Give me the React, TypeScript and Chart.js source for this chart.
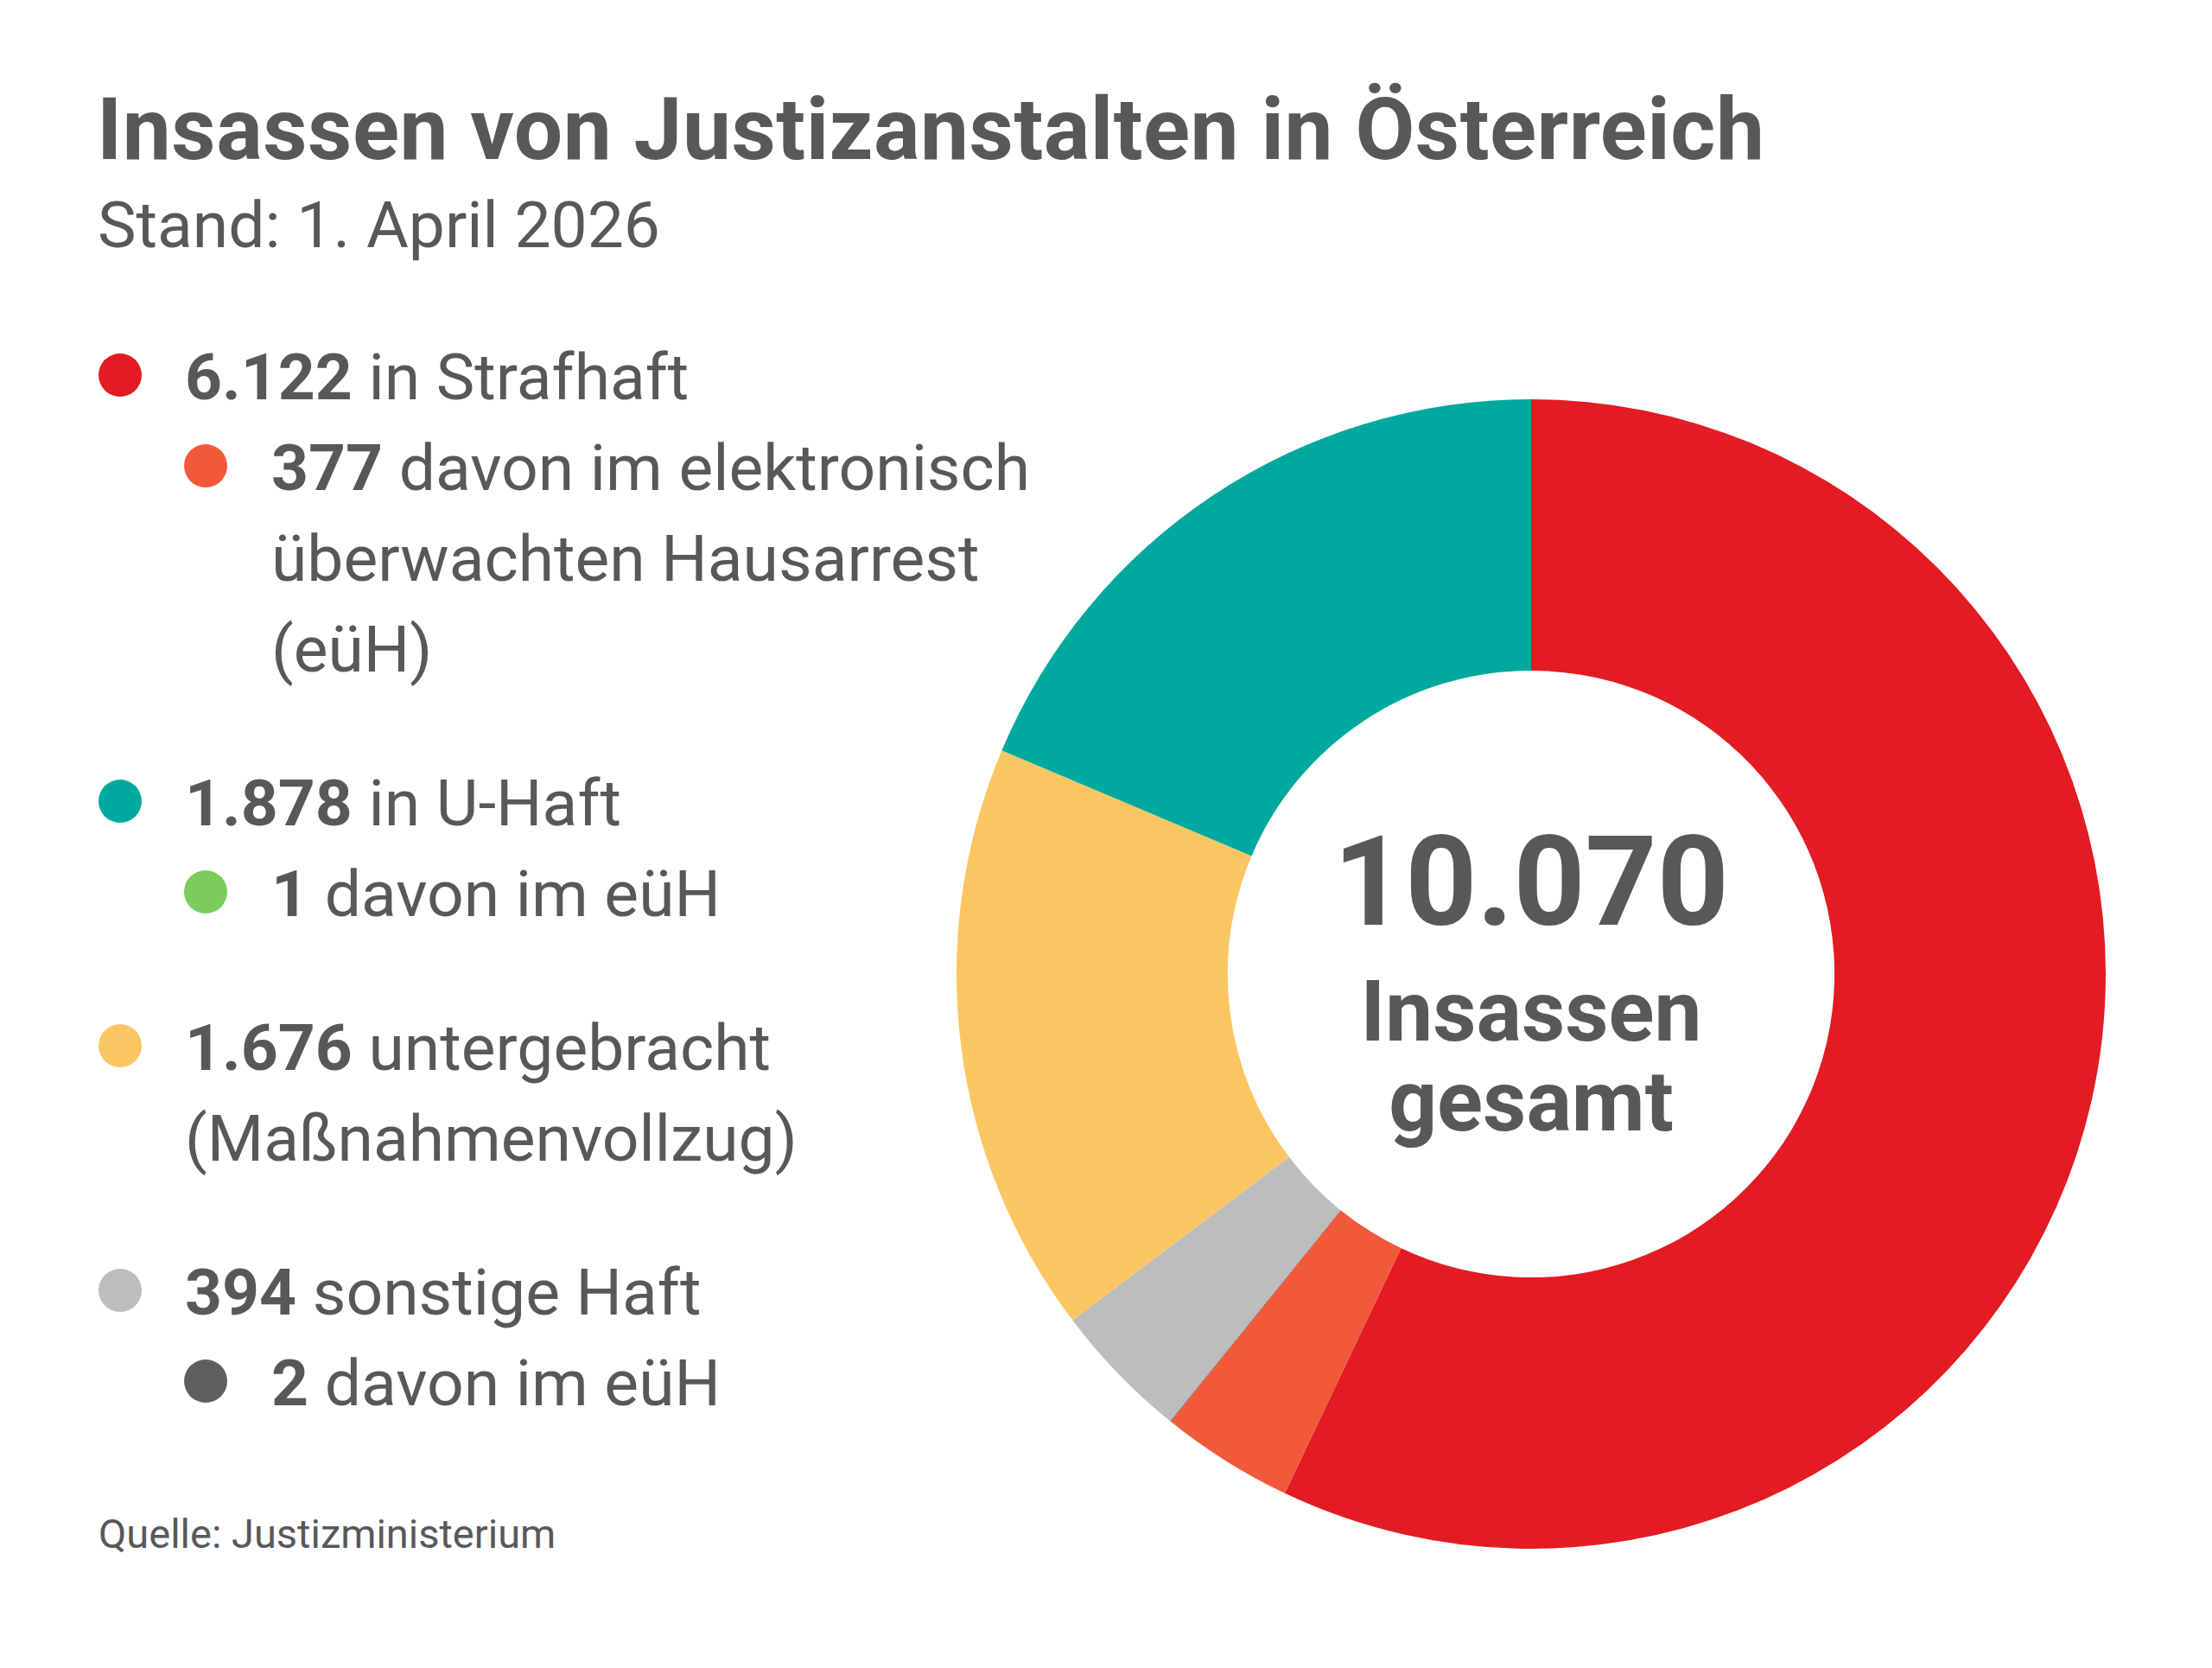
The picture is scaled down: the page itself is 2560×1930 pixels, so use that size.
import React, { useEffect, useRef } from 'react';
import { Chart, registerables } from 'chart.js';

Chart.register(...registerables);

// ---- Texts ----
const TITLE = 'Insassen von Justizanstalten in Österreich';
const SUBTITLE = 'Stand: 1. April 2026';
const SOURCE = 'Quelle: Justizministerium';
const CENTER_LABEL = ['Insassen', 'gesamt'];

// ---- Data: main categories and how many of them are in eüH ----
const categoryTexts = ['in Strafhaft', 'in U-Haft', 'untergebracht\n(Maßnahmenvollzug)', 'sonstige Haft'];
const categoryTotals = [6122, 1878, 1676, 394];
const categoryColors = ['#E31B23', '#00A99D', '#FBC662', '#BDBDBD'];

const euhTexts = ['davon im elektronisch\nüberwachten Hausarrest\n(eüH)', 'davon im eüH', '', 'davon im eüH'];
const euhCounts = [377, 1, 0, 2];
const euhColors = ['#F1593A', '#7ACC5C', '', '#5E5E60'];

// Clockwise ring order from 12 o'clock: [category index, eüH part?]
const ringOrder: [number, boolean][] = [
  [0, false],
  [0, true],
  [3, true],
  [3, false],
  [2, false],
  [1, true],
  [1, false],
];

const ringValues = ringOrder.map(([i, euh]) => (euh ? euhCounts[i] : categoryTotals[i] - euhCounts[i]));
const ringColors = ringOrder.map(([i, euh]) => (euh ? euhColors[i] : categoryColors[i]));
const ringLabels = ringOrder.map(([i, euh]) => (euh ? `${categoryTexts[i].split('\n')[0]} (eüH)` : categoryTexts[i].split('\n')[0]));

const total = categoryTotals.reduce((a, b) => a + b, 0);

const fmt = (n: number) => String(n).replace(/\B(?=(\d{3})+(?!\d))/g, '.');

// ---- Layout ----
const W = 2560;
const H = 1930;
const TEXT = '#58585A';
const FONT = 'Roboto, "Noto Sans", sans-serif';

const CX = 1772;
const CY = 1127;
const R = 665;

// baseline-anchored text block (Roboto: baseline ≈ 0.842em below top with line-height 1)
function TextLine({ x, baseline, size, weight = 400, children, align = 'left', spacing = 0 }: any) {
  const top = baseline - 0.842 * size;
  const style: React.CSSProperties = {
    position: 'absolute',
    top,
    fontSize: size,
    lineHeight: `${size}px`,
    fontWeight: weight,
    fontFamily: FONT,
    color: TEXT,
    whiteSpace: 'nowrap',
    letterSpacing: spacing,
  };
  if (align === 'center') {
    style.left = x - 1000;
    style.width = 2000;
    style.textAlign = 'center';
  } else {
    style.left = x;
  }
  return <div style={style}>{children}</div>;
}

function Legend() {
  const size = 75;
  const pitch = 105;
  const groupGap = 178;
  const x0Dot = 139;
  const x1Dot = 238;
  const x0Text = 214;
  const x1Text = 314;
  const items: React.ReactNode[] = [];
  let base = 462;
  categoryTexts.forEach((txt, i) => {
    const lines = txt.split('\n');
    items.push(
      <div
        key={`d${i}`}
        style={{
          position: 'absolute',
          left: x0Dot - 25,
          top: base - 28 - 25,
          width: 50,
          height: 50,
          borderRadius: '50%',
          background: categoryColors[i],
        }}
      />
    );
    lines.forEach((ln, j) => {
      items.push(
        <TextLine key={`c${i}-${j}`} x={x0Text} baseline={base} size={size}>
          {j === 0 ? (
            <>
              <span style={{ fontWeight: 700 }}>{fmt(categoryTotals[i])}</span> {ln}
            </>
          ) : (
            ln
          )}
        </TextLine>
      );
      base += pitch;
    });
    if (euhTexts[i]) {
      const sub = euhTexts[i].split('\n');
      items.push(
        <div
          key={`e${i}`}
          style={{
            position: 'absolute',
            left: x1Dot - 25,
            top: base - 28 - 25,
            width: 50,
            height: 50,
            borderRadius: '50%',
            background: euhColors[i],
          }}
        />
      );
      sub.forEach((ln, j) => {
        items.push(
          <TextLine key={`s${i}-${j}`} x={x1Text} baseline={base} size={size}>
            {j === 0 ? (
              <>
                <span style={{ fontWeight: 700 }}>{fmt(euhCounts[i])}</span> {ln}
              </>
            ) : (
              ln
            )}
          </TextLine>
        );
        base += pitch;
      });
    }
    base += groupGap - pitch;
  });
  return <>{items}</>;
}

function Doughnut() {
  const ref = useRef<HTMLCanvasElement>(null);
  useEffect(() => {
    if (!ref.current) return;
    const chart = new Chart(ref.current, {
      type: 'doughnut',
      data: {
        labels: ringLabels,
        datasets: [
          {
            data: ringValues,
            backgroundColor: ringColors,
            borderWidth: 0,
            hoverOffset: 0,
          },
        ],
      },
      options: {
        responsive: false,
        animation: false,
        devicePixelRatio: 1,
        cutout: '52.8%',
        layout: { padding: 0 },
        plugins: {
          legend: { display: false },
          tooltip: { enabled: false },
          title: { display: false },
        },
        events: [],
      },
    });
    return () => chart.destroy();
  }, []);
  return (
    <canvas
      ref={ref}
      width={2 * R}
      height={2 * R}
      style={{ position: 'absolute', left: CX - R, top: CY - R, width: 2 * R, height: 2 * R }}
    />
  );
}

export default function App() {
  return (
    <div
      style={{
        position: 'absolute',
        left: 0,
        top: 0,
        width: W,
        height: H,
        background: '#ffffff',
        overflow: 'hidden',
      }}
    >
      <TextLine x={112} baseline={184} size={100} weight={700} spacing={0.5}>
        {TITLE}
      </TextLine>
      <TextLine x={113} baseline={286} size={75}>
        {SUBTITLE}
      </TextLine>
      <Legend />
      <TextLine x={114} baseline={1791} size={47}>
        {SOURCE}
      </TextLine>
      <Doughnut />
      <TextLine x={CX} baseline={1070} size={145} weight={700} align="center">
        {fmt(total)}
      </TextLine>
      <TextLine x={CX} baseline={1205} size={98} weight={700} align="center">
        {CENTER_LABEL[0]}
      </TextLine>
      <TextLine x={CX} baseline={1309} size={98} weight={700} align="center">
        {CENTER_LABEL[1]}
      </TextLine>
    </div>
  );
}
